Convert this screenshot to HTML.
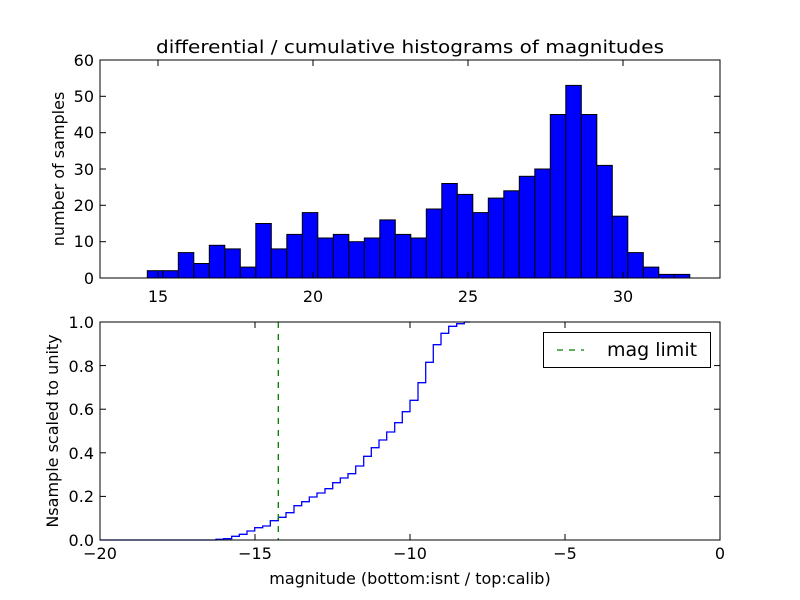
<!DOCTYPE html>
<html><head><meta charset="utf-8"><style>body{margin:0;background:#fff}svg{display:block}</style></head><body>
<svg width="800" height="600" xmlns="http://www.w3.org/2000/svg" font-family="DejaVu Sans, Liberation Sans, sans-serif">
<rect width="800" height="600" fill="#fff"/>
<text x="410" y="53" font-size="18" text-anchor="middle" textLength="508" lengthAdjust="spacingAndGlyphs">differential / cumulative histograms of magnitudes</text>
<g fill="#0000ff" stroke="#000" stroke-width="1">
<rect x="147.3" y="270.7" width="15.5" height="7.3"/>
<rect x="162.8" y="270.7" width="15.5" height="7.3"/>
<rect x="178.3" y="252.6" width="15.5" height="25.4"/>
<rect x="193.8" y="263.5" width="15.5" height="14.5"/>
<rect x="209.3" y="245.3" width="15.5" height="32.7"/>
<rect x="224.8" y="248.9" width="15.5" height="29.1"/>
<rect x="240.3" y="267.1" width="15.5" height="10.9"/>
<rect x="255.8" y="223.5" width="15.5" height="54.5"/>
<rect x="271.3" y="248.9" width="15.5" height="29.1"/>
<rect x="286.8" y="234.4" width="15.5" height="43.6"/>
<rect x="302.3" y="212.6" width="15.5" height="65.4"/>
<rect x="317.8" y="238.0" width="15.5" height="40.0"/>
<rect x="333.3" y="234.4" width="15.5" height="43.6"/>
<rect x="348.8" y="241.7" width="15.5" height="36.3"/>
<rect x="364.3" y="238.0" width="15.5" height="40.0"/>
<rect x="379.8" y="219.9" width="15.5" height="58.1"/>
<rect x="395.3" y="234.4" width="15.5" height="43.6"/>
<rect x="410.8" y="238.0" width="15.5" height="40.0"/>
<rect x="426.3" y="209.0" width="15.5" height="69.0"/>
<rect x="441.8" y="183.5" width="15.5" height="94.5"/>
<rect x="457.3" y="194.4" width="15.5" height="83.6"/>
<rect x="472.8" y="212.6" width="15.5" height="65.4"/>
<rect x="488.3" y="198.1" width="15.5" height="79.9"/>
<rect x="503.8" y="190.8" width="15.5" height="87.2"/>
<rect x="519.3" y="176.3" width="15.5" height="101.7"/>
<rect x="534.8" y="169.0" width="15.5" height="109.0"/>
<rect x="550.3" y="114.5" width="15.5" height="163.5"/>
<rect x="565.8" y="85.4" width="15.5" height="192.6"/>
<rect x="581.3" y="114.5" width="15.5" height="163.5"/>
<rect x="596.8" y="165.4" width="15.5" height="112.6"/>
<rect x="612.3" y="216.2" width="15.5" height="61.8"/>
<rect x="627.8" y="252.6" width="15.5" height="25.4"/>
<rect x="643.3" y="267.1" width="15.5" height="10.9"/>
<rect x="658.8" y="274.4" width="15.5" height="3.6"/>
<rect x="674.3" y="274.4" width="15.5" height="3.6"/>
</g>
<rect x="100" y="60" width="620" height="218" fill="none" stroke="#000" stroke-width="1"/>
<g stroke="#000" stroke-width="1">
<line x1="158" y1="278" x2="158" y2="272"/><line x1="158" y1="60" x2="158" y2="66"/>
<line x1="313" y1="278" x2="313" y2="272"/><line x1="313" y1="60" x2="313" y2="66"/>
<line x1="468" y1="278" x2="468" y2="272"/><line x1="468" y1="60" x2="468" y2="66"/>
<line x1="623" y1="278" x2="623" y2="272"/><line x1="623" y1="60" x2="623" y2="66"/>
<line x1="100" y1="96.3" x2="106" y2="96.3"/><line x1="720" y1="96.3" x2="714" y2="96.3"/>
<line x1="100" y1="132.7" x2="106" y2="132.7"/><line x1="720" y1="132.7" x2="714" y2="132.7"/>
<line x1="100" y1="169" x2="106" y2="169"/><line x1="720" y1="169" x2="714" y2="169"/>
<line x1="100" y1="205.3" x2="106" y2="205.3"/><line x1="720" y1="205.3" x2="714" y2="205.3"/>
<line x1="100" y1="241.7" x2="106" y2="241.7"/><line x1="720" y1="241.7" x2="714" y2="241.7"/>
</g>
<g font-size="16" text-anchor="end">
<text x="94" y="66">60</text><text x="94" y="102">50</text><text x="94" y="138">40</text><text x="94" y="175">30</text><text x="94" y="211">20</text><text x="94" y="247">10</text><text x="94" y="284">0</text>
</g>
<g font-size="16" text-anchor="middle">
<text x="158" y="302">15</text><text x="313" y="302">20</text><text x="468" y="302">25</text><text x="623" y="302">30</text>
</g>
<text transform="translate(64,169) rotate(-90)" font-size="16" text-anchor="middle">number of samples</text>

<polyline fill="none" stroke="#0000ff" stroke-width="1.3" points="100,540 216,540 216,539.3 223.7,539.3 223.7,538.7 231.7,538.7 231.7,536.3 239.3,536.3 239.3,534.3 247,534.3 247,531 254.7,531 254.7,527.7 262.7,527.7 262.7,526 270.3,526 270.3,520.7 278.3,520.7 278.3,517.3 286,517.3 286,512.7 294,512.7 294,505.7 301.7,505.7 301.7,501.7 309.3,501.7 309.3,497 317,497 317,493 325,493 325,488.7 332.7,488.7 332.7,482.7 340.3,482.7 340.3,478 348,478 348,473.7 355.7,473.7 355.7,466 363.7,466 363.7,456.3 371.3,456.3 371.3,447.7 379,447.7 379,440 386.7,440 386.7,432 394.7,432 394.7,422.7 402.3,422.7 402.3,411.7 410,411.7 410,400.3 418,400.3 418,382.7 425.7,382.7 425.7,362.3 433.3,362.3 433.3,344.7 441,344.7 441,333.3 448.7,333.3 448.7,326.3 456.7,326.3 456.7,323.7 464.3,323.7 464.3,322 470,322"/>
<line x1="278.3" y1="322" x2="278.3" y2="540" stroke="#008000" stroke-width="1.3" stroke-dasharray="6,6"/>
<rect x="100" y="322" width="620" height="218" fill="none" stroke="#000" stroke-width="1"/>
<g stroke="#000" stroke-width="1">
<line x1="255" y1="540" x2="255" y2="534"/><line x1="255" y1="322" x2="255" y2="328"/>
<line x1="410" y1="540" x2="410" y2="534"/><line x1="410" y1="322" x2="410" y2="328"/>
<line x1="565" y1="540" x2="565" y2="534"/><line x1="565" y1="322" x2="565" y2="328"/>
<line x1="100" y1="496.4" x2="106" y2="496.4"/><line x1="720" y1="496.4" x2="714" y2="496.4"/>
<line x1="100" y1="452.8" x2="106" y2="452.8"/><line x1="720" y1="452.8" x2="714" y2="452.8"/>
<line x1="100" y1="409.2" x2="106" y2="409.2"/><line x1="720" y1="409.2" x2="714" y2="409.2"/>
<line x1="100" y1="365.6" x2="106" y2="365.6"/><line x1="720" y1="365.6" x2="714" y2="365.6"/>
</g>
<g font-size="16" text-anchor="end">
<text x="94" y="328">1.0</text><text x="94" y="372">0.8</text><text x="94" y="415">0.6</text><text x="94" y="459">0.4</text><text x="94" y="502">0.2</text><text x="94" y="546">0.0</text>
</g>
<g font-size="16" text-anchor="middle">
<text x="100" y="559">−20</text><text x="255" y="559">−15</text><text x="410" y="559">−10</text><text x="565" y="559">−5</text><text x="720" y="559">0</text>
</g>
<text x="410" y="584" font-size="16" text-anchor="middle">magnitude (bottom:isnt / top:calib)</text>
<text transform="translate(58,431) rotate(-90)" font-size="16" text-anchor="middle">Nsample scaled to unity</text>
<rect x="543.5" y="332.5" width="167" height="35" fill="#fff" stroke="#000" stroke-width="1"/>
<line x1="557" y1="350" x2="584" y2="350" stroke="#008000" stroke-width="1.3" stroke-dasharray="6,6"/>
<text x="607" y="356" font-size="19">mag limit</text>
</svg>
</body></html>
